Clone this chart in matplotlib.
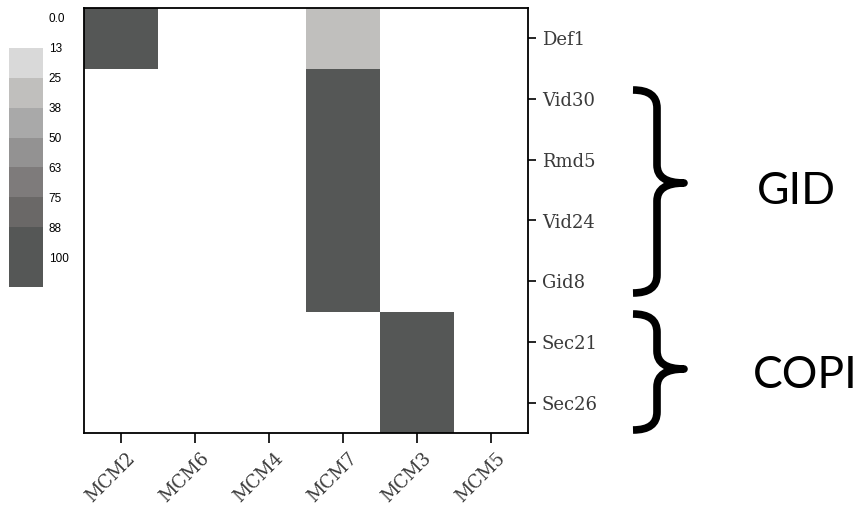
import numpy as np
import matplotlib
matplotlib.use('Agg')
import matplotlib.pyplot as plt
import matplotlib.transforms as mtransforms
from matplotlib.colors import ListedColormap, BoundaryNorm
from matplotlib.cm import ScalarMappable
from matplotlib.path import Path
from matplotlib.patches import PathPatch

# data
proteins = ['Def1', 'Vid30', 'Rmd5', 'Vid24', 'Gid8', 'Sec21', 'Sec26']
mcms = ['MCM2', 'MCM6', 'MCM4', 'MCM7', 'MCM3', 'MCM5']
values = np.array([
    [100, 0, 0, 30, 0, 0],
    [0, 0, 0, 100, 0, 0],
    [0, 0, 0, 100, 0, 0],
    [0, 0, 0, 100, 0, 0],
    [0, 0, 0, 100, 0, 0],
    [0, 0, 0, 0, 100, 0],
    [0, 0, 0, 0, 100, 0],
])

levels = [0, 13, 25, 38, 50, 63, 75, 88, 100, 113]
level_labels = ['0.0', '13', '25', '38', '50', '63', '75', '88', '100']
shades = ['#ffffff', '#d9d9d9', '#c0bfbd', '#a9a9a9', '#939292',
          '#7e7b7b', '#6a6867', '#555756', '#555756']

groups = ['GID', 'COPI']

W, H = 866, 519
fig = plt.figure(figsize=(W / 100, H / 100), dpi=100)

cmap = ListedColormap(shades)
norm = BoundaryNorm(levels, cmap.N)

# heatmap
ax = fig.add_axes([84 / W, 1 - 433 / H, 444 / W, 425 / H])
ax.pcolormesh(values, cmap=cmap, norm=norm)
ax.set_xlim(0, len(mcms))
ax.set_ylim(len(proteins), 0)
xpos = np.arange(len(mcms)) + 0.5
ax.set_xticks(xpos)
ax.set_xticklabels([])
# rotated column names, nudged to sit like the original
shift = mtransforms.ScaledTranslation(11 / 100, -23 / 100, fig.dpi_scale_trans)
for x, name in zip(xpos, mcms):
    ax.text(x, 0, name, transform=ax.get_xaxis_transform() + shift,
            rotation=45, ha='right', va='center', rotation_mode='anchor',
            family='DejaVu Serif', fontsize=13, color='#3a3a3a')
ax.set_yticks(np.arange(len(proteins)) + 0.5)
ax.set_yticklabels(proteins, family='DejaVu Serif', fontsize=13, color='#3a3a3a')
ax.yaxis.tick_right()
ax.tick_params(axis='x', length=7, width=1.2, pad=6)
ax.tick_params(axis='y', length=6, width=1.2, pad=4)
for s in ax.spines.values():
    s.set_linewidth(1.3)

# colour key
cax = fig.add_axes([9 / W, 1 - 287 / H, 34 / W, 269 / H])
cb = fig.colorbar(ScalarMappable(norm=norm, cmap=cmap), cax=cax,
                  ticks=levels[:-1])
cb.outline.set_visible(False)
cb.set_ticklabels(level_labels)
cax.minorticks_off()
cax.invert_yaxis()
cax.tick_params(which='both', length=0, labelsize=8.5, pad=4)
for t in cax.get_yticklabels():
    t.set_family('Liberation Sans')

# braces and group names drawn in pixel space
ov = fig.add_axes([0, 0, 1, 1])
ov.set_xlim(0, W)
ov.set_ylim(H, 0)
ov.axis('off')


def brace(a, x0, xs, xt, y0, ym, y1, r=18):
    verts = [(x0, y0), (xs, y0), (xs, y0 + r),
             (xs, ym - r), (xs, ym), (xt, ym),
             (xs, ym), (xs, ym + r),
             (xs, y1 - r), (xs, y1), (x0, y1)]
    codes = [Path.MOVETO, Path.CURVE3, Path.CURVE3,
             Path.LINETO, Path.CURVE3, Path.CURVE3,
             Path.CURVE3, Path.CURVE3,
             Path.LINETO, Path.CURVE3, Path.CURVE3]
    a.add_patch(PathPatch(Path(verts, codes), fill=False, lw=5.5,
                          color='black', capstyle='butt', joinstyle='round'))


brace(ov, 633, 657, 684, 90, 183, 293)
brace(ov, 633, 657, 684, 314, 369, 430)
ov.text(796, 192, groups[0], ha='center', va='center', fontsize=32, family='Lato')
ov.text(805, 376, groups[1], ha='center', va='center', fontsize=32, family='Lato')

fig.savefig('out.png', dpi=100)
